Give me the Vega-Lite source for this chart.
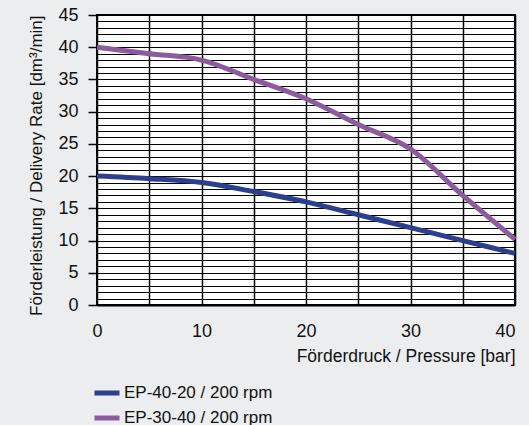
{
  "$schema": "https://vega.github.io/schema/vega-lite/v6.json",
  "autosize": "none",
  "width": 418,
  "height": 290,
  "padding": {"left": 97, "top": 15, "right": 14, "bottom": 120},
  "background": "#ECEDEF",
  "config": {
    "font": "Liberation Sans",
    "view": {"stroke": "black", "strokeWidth": 2, "fill": "white"}
  },
  "data": {
    "values": [
      {"p": 0, "q": 20, "s": "EP-40-20 / 200 rpm"},
      {"p": 5, "q": 19.6, "s": "EP-40-20 / 200 rpm"},
      {"p": 10, "q": 19, "s": "EP-40-20 / 200 rpm"},
      {"p": 15, "q": 17.6, "s": "EP-40-20 / 200 rpm"},
      {"p": 20, "q": 16, "s": "EP-40-20 / 200 rpm"},
      {"p": 25, "q": 14, "s": "EP-40-20 / 200 rpm"},
      {"p": 30, "q": 12, "s": "EP-40-20 / 200 rpm"},
      {"p": 35, "q": 10, "s": "EP-40-20 / 200 rpm"},
      {"p": 40, "q": 8, "s": "EP-40-20 / 200 rpm"},
      {"p": 0, "q": 40, "s": "EP-30-40 / 200 rpm"},
      {"p": 5, "q": 39, "s": "EP-30-40 / 200 rpm"},
      {"p": 10, "q": 38, "s": "EP-30-40 / 200 rpm"},
      {"p": 15, "q": 35, "s": "EP-30-40 / 200 rpm"},
      {"p": 20, "q": 32, "s": "EP-30-40 / 200 rpm"},
      {"p": 25, "q": 28, "s": "EP-30-40 / 200 rpm"},
      {"p": 30, "q": 24.2, "s": "EP-30-40 / 200 rpm"},
      {"p": 35, "q": 17, "s": "EP-30-40 / 200 rpm"},
      {"p": 40, "q": 10.2, "s": "EP-30-40 / 200 rpm"}
    ]
  },
  "mark": {"type": "line", "strokeWidth": 5, "interpolate": "monotone", "clip": false},
  "encoding": {
    "x": {
      "field": "p",
      "type": "quantitative",
      "scale": {"domain": [0, 40], "nice": false},
      "axis": {
        "values": [0, 5, 10, 15, 20, 25, 30, 35, 40],
        "labelExpr": "datum.value % 10 === 0 ? datum.label : ''",
        "labelAlign": {"condition": {"test": "datum.value === 40", "value": "right"}, "value": "center"},
        "grid": true,
        "gridColor": "black",
        "gridOpacity": 1,
        "gridWidth": 1.5,
        "ticks": false,
        "domainColor": "black",
        "domainWidth": 2,
        "labelFontSize": 18,
        "labelColor": "#111",
        "labelPadding": 17,
        "title": "Förderdruck / Pressure [bar]",
        "titleFontSize": 17.5,
        "titleFontWeight": "normal",
        "titleColor": "#111",
        "titleAnchor": "end",
        "titlePadding": 7
      }
    },
    "y": {
      "field": "q",
      "type": "quantitative",
      "scale": {"domain": [0, 45], "nice": false},
      "axis": {
        "values": [0,1,2,3,4,5,6,7,8,9,10,11,12,13,14,15,16,17,18,19,20,21,22,23,24,25,26,27,28,29,30,31,32,33,34,35,36,37,38,39,40,41,42,43,44,45],
        "labelExpr": "datum.value % 5 === 0 ? datum.label : ''",
        "grid": true,
        "gridColor": "black",
        "gridOpacity": 1,
        "gridWidth": 1,
        "tickColor": {"condition": {"test": "datum.value % 5 === 0", "value": "black"}, "value": "transparent"},
        "tickSize": 9,
        "tickWidth": 1.5,
        "domain": false,
        "labelFontSize": 18,
        "labelColor": "#111",
        "labelPadding": 10,
        "title": "Förderleistung / Delivery Rate [dm³/min]",
        "titleFontSize": 17,
        "titleFontWeight": "normal",
        "titleColor": "#111",
        "titleAnchor": "end",
        "titlePadding": 12
      }
    },
    "color": {
      "field": "s",
      "type": "nominal",
      "sort": ["EP-40-20 / 200 rpm", "EP-30-40 / 200 rpm"],
      "scale": {"domain": ["EP-40-20 / 200 rpm", "EP-30-40 / 200 rpm"], "range": ["#2B3F8F", "#8D5A9E"]},
      "legend": {
        "orient": "none",
        "legendX": -5,
        "legendY": 363,
        "padding": 0,
        "title": null,
        "symbolType": "stroke",
        "symbolStrokeWidth": 5,
        "symbolSize": 625,
        "labelFontSize": 17,
        "labelColor": "#111",
        "labelOffset": 2,
        "rowPadding": -5
      }
    }
  }
}
